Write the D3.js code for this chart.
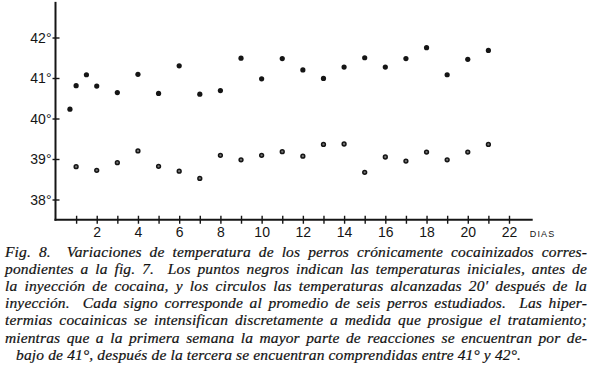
<!DOCTYPE html>
<html>
<head>
<meta charset="utf-8">
<script src="https://cdn.jsdelivr.net/npm/d3@7"></script>
<style>
  html, body { margin: 0; padding: 0; background: #fff; }
  svg { display: block; }
  .caption { font-family: "Liberation Serif", serif; font-style: italic; font-size: 15.5px; fill: #111; stroke: #111; stroke-width: 0.2px; white-space: pre; }
  .tick-label { font-family: "Liberation Sans", sans-serif; font-size: 14px; fill: #151515; }
</style>
</head>
<body>
<svg id="chart"></svg>
<script>
// Days and temperatures (°C)
const upperDays  = [0.7, 1, 1.5, 2, 3, 4, 5, 6, 7, 8, 9, 10, 11, 12, 13, 14, 15, 16, 17, 18, 19, 20, 21];
const upperTemps = [40.23, 40.81, 41.08, 40.80, 40.64, 41.09, 40.62, 41.30, 40.60, 40.69, 41.49, 40.98,
                    41.48, 41.20, 40.99, 41.27, 41.50, 41.27, 41.48, 41.75, 41.08, 41.46, 41.68];

const lowerDays  = [1, 2, 3, 4, 5, 6, 7, 8, 9, 10, 11, 12, 13, 14, 15, 16, 17, 18, 19, 20, 21];
const lowerTemps = [38.81, 38.72, 38.91, 39.20, 38.82, 38.70, 38.52, 39.09, 38.98, 39.09, 39.18,
                    39.07, 39.36, 39.37, 38.67, 39.05, 38.95, 39.17, 38.98, 39.17, 39.36];

const yTicks = [38, 39, 40, 41, 42];
const xTickLabels = [2, 4, 6, 8, 10, 12, 14, 16, 18, 20, 22];
const xTickMarks = d3.range(1, 23);

const captionLines = [
  'Fig. 8.  Variaciones de temperatura de los perros crónicamente cocainizados corres-',
  'pondientes a la fig. 7.  Los puntos negros indican las temperaturas iniciales, antes de',
  'la inyección de cocaina, y los circulos las temperaturas alcanzadas 20′ después de la',
  'inyección.  Cada signo corresponde al promedio de seis perros estudiados.  Las hiper-',
  'termias cocainicas se intensifican discretamente a medida que prosigue el tratamiento;',
  'mientras que a la primera semana la mayor parte de reacciones se encuentran por de-',
  'bajo de 41°, después de la tercera se encuentran comprendidas entre 41° y 42°.'
];

const width = 600, height = 371;

const svg = d3.select('#chart')
    .attr('width', width)
    .attr('height', height);

const xScale = d3.scaleLinear()
    .domain([0, 22])
    .range([55.5, 509]);

const yScale = d3.scaleLinear()
    .domain([38, 42])
    .range([199.5, 37.5]);

const ink = '#151515';

// Axes drawn with d3 axes, then restyled like the hand-drawn original
const xAxis = d3.axisBottom(xScale)
    .tickValues(xTickMarks)
    .tickSize(0)
    .tickFormat(d => xTickLabels.includes(d) ? d : '');

const yAxis = d3.axisLeft(yScale)
    .tickValues(yTicks)
    .tickSize(0)
    .tickFormat(d => d + '°');

const x0 = xScale(0);
const yBase = yScale(37.5);

const xAxisG = svg.append('g')
    .attr('transform', `translate(0,${yBase})`)
    .call(xAxis);

xAxisG.select('.domain').remove();
xAxisG.selectAll('.tick line')
    .attr('y1', -4).attr('y2', 4)
    .attr('stroke', ink).attr('stroke-width', 1.4);
xAxisG.selectAll('.tick text')
    .attr('class', 'tick-label')
    .attr('y', 17)
    .attr('dy', 0)
    .attr('font-family', null).attr('font-size', null)
    .attr('fill', ink);

const yAxisG = svg.append('g')
    .attr('transform', `translate(${x0},0)`)
    .call(yAxis);

yAxisG.select('.domain').remove();
yAxisG.selectAll('.tick line')
    .attr('x1', -3).attr('x2', 4)
    .attr('stroke', ink).attr('stroke-width', 1.4);
yAxisG.selectAll('.tick text')
    .attr('class', 'tick-label')
    .attr('x', -4)
    .attr('dy', '0.35em')
    .attr('font-family', null).attr('font-size', null)
    .attr('fill', ink);

// Axis lines
svg.append('line')
    .attr('x1', x0).attr('x2', x0)
    .attr('y1', yScale(42.88)).attr('y2', yBase + 1)
    .attr('stroke', ink).attr('stroke-width', 2);

svg.append('line')
    .attr('x1', x0 - 1).attr('x2', xScale(23.15))
    .attr('y1', yBase).attr('y2', yBase)
    .attr('stroke', ink).attr('stroke-width', 2.2);

svg.append('text')
    .attr('x', xScale(23.15) - 3)
    .attr('y', yBase + 17)
    .attr('font-family', '"Liberation Sans", sans-serif')
    .attr('font-size', 9)
    .attr('letter-spacing', 1.2)
    .attr('fill', ink)
    .text('DIAS');

// Marks
const upper = upperDays.map((d, i) => ({ day: d, temp: upperTemps[i] }));
const lower = lowerDays.map((d, i) => ({ day: d, temp: lowerTemps[i] }));

svg.append('g').selectAll('circle')
    .data(upper)
  .join('circle')
    .attr('cx', d => xScale(d.day))
    .attr('cy', d => yScale(d.temp))
    .attr('r', 2.6)
    .attr('fill', ink);

svg.append('g').selectAll('circle')
    .data(lower)
  .join('circle')
    .attr('cx', d => xScale(d.day))
    .attr('cy', d => yScale(d.temp))
    .attr('r', 1.9)
    .attr('fill', '#777')
    .attr('stroke', ink)
    .attr('stroke-width', 1.5);

// Caption, justified like the printed page
const capLeft = 5, capRight = 587, capTop = 256.5, capLead = 17.2;
const baseSpacing = 0.15;

const cap = svg.append('g');
captionLines.forEach((line, i) => {
  const last = i === captionLines.length - 1;
  const t = cap.append('text')
      .attr('class', 'caption')
      .attr('x', last ? capLeft + 11 : capLeft)
      .attr('y', capTop + i * capLead)
      .attr('letter-spacing', baseSpacing)
      .text(line);
  if (!last) {
    const target = capRight - capLeft;
    const spaces = (line.match(/ /g) || []).length;
    let natural = t.node().getComputedTextLength();
    // keep a visible gap between words; squeeze letters if needed
    if (target - natural < spaces * 2.5) {
      const ls = baseSpacing + (target - natural - spaces * 2.5) / line.length;
      t.attr('letter-spacing', ls);
      natural = t.node().getComputedTextLength();
    }
    t.attr('word-spacing', (target - natural) / spaces);
  }
});
</script>
</body>
</html>
